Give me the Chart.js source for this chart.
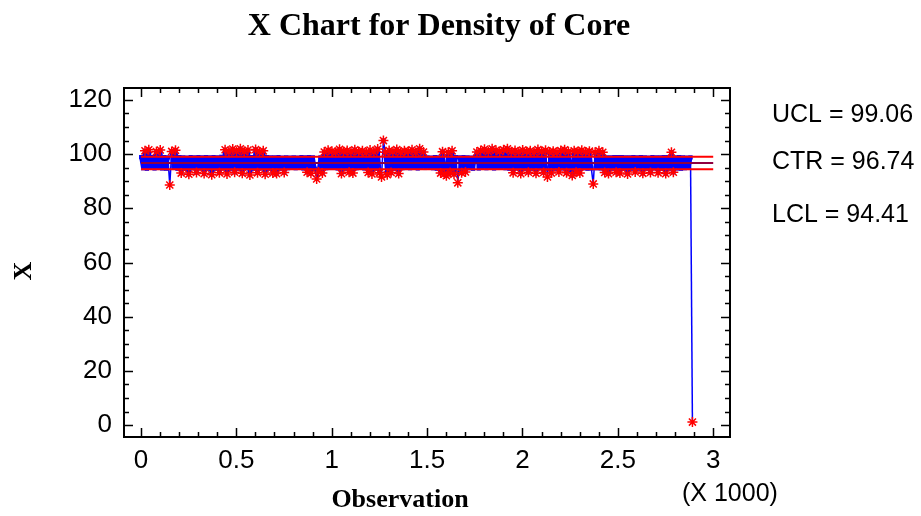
<!DOCTYPE html>
<html>
<head>
<meta charset="utf-8">
<title>X Chart for Density of Core</title>
<script src="https://cdn.jsdelivr.net/npm/chart.js@4.4.1/dist/chart.umd.min.js"></script>
<style>
  html, body { margin: 0; padding: 0; background: #fff; }
  #wrap { width: 921px; height: 516px; }
</style>
</head>
<body>
<div id="wrap"><canvas id="xchart" width="921" height="516"></canvas></div>
<script>
// Individual density readings, one every 10th observation (obs 1, 11, 21, ...)
const obsStart = 1;
const obsStep = 10;
const density = [
  98.9, 94.8, 101.2, 94.6, 101.6, 95.0, 98.9, 94.7, 100.9, 94.9,
  101.5, 94.7, 98.9, 94.6, 98.8, 88.6, 101.0, 94.9, 101.4, 94.6,
  98.9, 93.0, 98.8, 94.6, 98.7, 92.6, 98.9, 94.8, 98.8, 93.2,
  98.9, 94.7, 98.8, 92.8, 98.9, 94.6, 98.8, 92.4, 98.9, 94.6,
  98.8, 93.1, 99.0, 94.7, 101.6, 92.7, 100.8, 94.6, 101.9, 93.3,
  101.0, 94.6, 102.0, 92.9, 100.9, 94.8, 101.5, 92.3, 98.9, 94.6,
  101.7, 93.1, 100.8, 94.7, 101.2, 92.6, 98.9, 94.6, 98.8, 93.0,
  98.8, 92.8, 98.9, 94.6, 98.7, 93.2, 98.8, 94.8, 98.7, 95.0,
  98.8, 94.8, 98.7, 95.0, 98.9, 94.7, 98.8, 93.3, 98.9, 92.9,
  98.8, 94.6, 90.8, 93.4, 98.8, 93.0, 100.8, 94.8, 101.4, 94.9,
  101.1, 94.9, 100.7, 94.7, 101.8, 92.8, 101.0, 94.6, 101.3, 93.3,
  100.8, 93.0, 101.6, 94.8, 100.9, 95.0, 101.2, 94.7, 100.6, 93.2,
  101.5, 92.7, 100.8, 94.6, 101.9, 93.1, 91.6, 105.0, 100.7, 92.4,
  101.3, 93.2, 100.9, 94.6, 101.7, 92.8, 100.7, 94.8, 101.2, 94.9,
  101.0, 94.8, 101.6, 95.0, 100.6, 94.7, 102.0, 95.0, 100.8, 94.9,
  98.8, 95.0, 98.7, 94.8, 98.9, 94.6, 98.8, 93.0, 100.9, 92.7,
  92.0, 100.7, 93.2, 101.2, 92.6, 98.9, 89.4, 98.8, 93.1, 98.9,
  93.4, 98.8, 94.8, 98.7, 94.6, 98.9, 100.8, 94.7, 101.3, 95.0,
  101.8, 94.8, 100.9, 95.0, 102.0, 94.7, 101.4, 94.9, 101.0, 95.0,
  101.6, 94.8, 102.0, 94.6, 100.9, 93.1, 101.3, 94.7, 100.8, 92.8,
  101.5, 94.6, 101.0, 93.3, 101.2, 94.6, 100.7, 92.9, 101.7, 94.8,
  100.9, 93.2, 101.4, 91.6, 100.8, 93.0, 101.1, 94.6, 100.7, 93.4,
  101.3, 94.7, 101.6, 93.1, 100.9, 94.6, 92.1, 101.2, 93.3, 101.0,
  93.0, 101.4, 94.8, 100.8, 94.6, 101.1, 94.7, 89.0, 100.7, 94.8,
  101.2, 94.7, 100.7, 93.2, 98.8, 92.8, 98.8, 94.6, 98.9, 93.3,
  98.9, 93.0, 98.9, 94.6, 98.8, 92.7, 98.8, 94.6, 98.9, 93.4,
  98.8, 94.6, 98.9, 92.9, 98.8, 94.6, 98.7, 93.2, 98.9, 94.7,
  98.8, 93.1, 98.8, 94.6, 98.9, 92.8, 98.9, 94.6, 100.7, 93.3,
  98.8, 94.7, 98.9, 94.6, 98.8, 94.8, 98.7, 94.9, 98.8, 1.1
];

// Control limits
const UCL = 99.06;
const CTR = 96.74;
const LCL = 94.41;
const limitSpan = [0, 3000];

// Axis ticks
const xTicks = [0, 500, 1000, 1500, 2000, 2500, 3000];
const yTicks = [0, 20, 40, 60, 80, 100, 120];

const points = density.map((v, i) => ({ x: obsStart + i * obsStep, y: v }));
const outOfControl = points.filter(p => p.y > UCL || p.y < LCL);
const limitLine = level => limitSpan.map(x => ({ x: x, y: level }));

// dense part of the trace is drawn heavy so it fills in, long excursions thin
const segWidth = ctx => {
  const a = ctx.p0.parsed.y, b = ctx.p1.parsed.y;
  return (Math.min(a, b) < 91.8 || Math.max(a, b) > 102.5) ? 1.5 : 4;
};

// frame, inward tick marks and free text (Statgraphics style)
const framePlugin = {
  id: "framePlugin",
  afterDraw(chart) {
    const { ctx, chartArea: a, scales: { x, y } } = chart;
    ctx.save();
    ctx.strokeStyle = "#000";
    ctx.lineWidth = 2;
    ctx.strokeRect(a.left, a.top, a.right - a.left, a.bottom - a.top);

    ctx.lineWidth = 1.5;
    ctx.beginPath();
    for (let v = 0; v <= 3000; v += 100) {
      const px = Math.round(x.getPixelForValue(v)) + 0.5;
      const len = v % 500 === 0 ? 9 : 5;
      ctx.moveTo(px, a.bottom); ctx.lineTo(px, a.bottom - len);
      ctx.moveTo(px, a.top); ctx.lineTo(px, a.top + len);
    }
    for (let v = 0; v <= 120; v += 5) {
      const py = Math.round(y.getPixelForValue(v)) + 0.5;
      const len = v % 20 === 0 ? 9 : 5;
      ctx.moveTo(a.left, py); ctx.lineTo(a.left + len, py);
      ctx.moveTo(a.right, py); ctx.lineTo(a.right - len, py);
    }
    ctx.stroke();

    ctx.fillStyle = "#000";
    ctx.textBaseline = "alphabetic";
    ctx.textAlign = "center";
    ctx.font = "bold 32px 'Liberation Serif', 'Times New Roman', serif";
    ctx.fillText("X Chart for Density of Core", 439, 35);
    ctx.font = "bold 26px 'Liberation Serif', 'Times New Roman', serif";
    ctx.fillText("Observation", 400, 507);

    ctx.save();
    ctx.translate(31, 271);
    ctx.rotate(-Math.PI / 2);
    ctx.fillText("X", 0, 0);
    ctx.restore();

    ctx.textAlign = "left";
    ctx.font = "25px 'Liberation Sans', Arial, sans-serif";
    ctx.fillText("UCL = " + UCL.toFixed(2), 772, 122);
    ctx.fillText("CTR = " + CTR.toFixed(2), 772, 169);
    ctx.fillText("LCL = " + LCL.toFixed(2), 772, 222);
    ctx.fillText("(X 1000)", 682, 501);
    ctx.restore();
  }
};

new Chart(document.getElementById("xchart"), {
  type: "scatter",
  data: {
    datasets: [
      {
        label: "Out of control",
        data: outOfControl,
        showLine: false,
        pointStyle: "star",
        pointRadius: 5,
        borderColor: "#ff0000",
        backgroundColor: "#ff0000",
        borderWidth: 1.5
      },
      {
        label: "UCL",
        data: limitLine(UCL),
        showLine: true,
        pointRadius: 0,
        borderColor: "#ff0000",
        borderWidth: 2
      },
      {
        label: "CTR",
        data: limitLine(CTR),
        showLine: true,
        pointRadius: 0,
        borderColor: "#900040",
        borderWidth: 2
      },
      {
        label: "LCL",
        data: limitLine(LCL),
        showLine: true,
        pointRadius: 0,
        borderColor: "#ff0000",
        borderWidth: 2
      },
      {
        label: "Density",
        data: points,
        showLine: true,
        pointStyle: "rect",
        pointRadius: ctx => (ctx.raw && ctx.raw.y < 91.8 ? 0 : 3),
        pointBorderWidth: 0,
        pointBackgroundColor: "#0000ff",
        borderColor: "#0000ff",
        borderWidth: 4,
        borderJoinStyle: "bevel",
        segment: { borderWidth: segWidth },
        tension: 0
      }
    ]
  },
  options: {
    responsive: false,
    animation: false,
    layout: { padding: { left: 0, right: 191, top: 88, bottom: 0 } },
    plugins: {
      legend: { display: false },
      tooltip: { enabled: false },
      title: { display: false }
    },
    scales: {
      x: {
        type: "linear",
        min: -89,
        max: 3088,
        grid: { display: false, drawTicks: false },
        border: { display: false },
        afterFit: scale => { scale.height = 79; },
        afterBuildTicks: scale => { scale.ticks = xTicks.map(v => ({ value: v })); },
        ticks: {
          padding: 8,
          maxRotation: 0,
          autoSkip: false,
          color: "#000",
          font: { family: "'Liberation Sans', Arial, sans-serif", size: 26 },
          callback: v => String(v / 1000)
        }
      },
      y: {
        type: "linear",
        min: -4.4,
        max: 124.4,
        grid: { display: false, drawTicks: false },
        border: { display: false },
        afterFit: scale => { scale.width = 124; },
        afterBuildTicks: scale => { scale.ticks = yTicks.map(v => ({ value: v })); },
        ticks: {
          padding: 12,
          autoSkip: false,
          color: "#000",
          font: { family: "'Liberation Sans', Arial, sans-serif", size: 26 }
        }
      }
    }
  },
  plugins: [framePlugin]
});
</script>
</body>
</html>
